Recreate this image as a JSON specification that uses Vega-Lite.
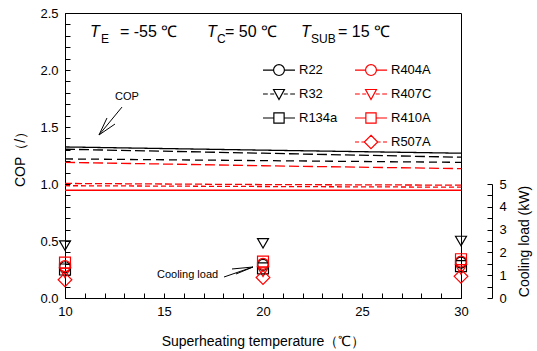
{
  "$schema": "https://vega.github.io/schema/vega-lite/v6.json",
  "width": 396,
  "height": 285,
  "autosize": {"type": "none"},
  "padding": {"left": 65, "top": 13, "right": 76, "bottom": 53},
  "background": "white",
  "datasets": {
    "cop": [
      {"ref": "R22", "sh": 10, "cop": 1.325}, {"ref": "R22", "sh": 20, "cop": 1.297}, {"ref": "R22", "sh": 30, "cop": 1.27},
      {"ref": "R32", "sh": 10, "cop": 1.305}, {"ref": "R32", "sh": 20, "cop": 1.27}, {"ref": "R32", "sh": 30, "cop": 1.235},
      {"ref": "R134a", "sh": 10, "cop": 1.22}, {"ref": "R134a", "sh": 20, "cop": 1.205}, {"ref": "R134a", "sh": 30, "cop": 1.19},
      {"ref": "R404A", "sh": 10, "cop": 0.945}, {"ref": "R404A", "sh": 20, "cop": 0.945}, {"ref": "R404A", "sh": 30, "cop": 0.945},
      {"ref": "R407C", "sh": 10, "cop": 1.19}, {"ref": "R407C", "sh": 20, "cop": 1.16}, {"ref": "R407C", "sh": 30, "cop": 1.135},
      {"ref": "R410A", "sh": 10, "cop": 1.005}, {"ref": "R410A", "sh": 20, "cop": 0.995}, {"ref": "R410A", "sh": 30, "cop": 0.99},
      {"ref": "R507A", "sh": 10, "cop": 0.985}, {"ref": "R507A", "sh": 20, "cop": 0.978}, {"ref": "R507A", "sh": 30, "cop": 0.972}
    ],
    "load": [
      {"ref": "R22", "sh": 10, "kw": 1.35}, {"ref": "R22", "sh": 20, "kw": 1.45}, {"ref": "R22", "sh": 30, "kw": 1.55},
      {"ref": "R32", "sh": 10, "kw": 2.3}, {"ref": "R32", "sh": 20, "kw": 2.4}, {"ref": "R32", "sh": 30, "kw": 2.5},
      {"ref": "R134a", "sh": 10, "kw": 1.25}, {"ref": "R134a", "sh": 20, "kw": 1.3}, {"ref": "R134a", "sh": 30, "kw": 1.4},
      {"ref": "R404A", "sh": 10, "kw": 1.4}, {"ref": "R404A", "sh": 20, "kw": 1.5}, {"ref": "R404A", "sh": 30, "kw": 1.6},
      {"ref": "R407C", "sh": 10, "kw": 1.1}, {"ref": "R407C", "sh": 20, "kw": 1.15}, {"ref": "R407C", "sh": 30, "kw": 1.25},
      {"ref": "R410A", "sh": 10, "kw": 1.55}, {"ref": "R410A", "sh": 20, "kw": 1.6}, {"ref": "R410A", "sh": 30, "kw": 1.7},
      {"ref": "R507A", "sh": 10, "kw": 0.8}, {"ref": "R507A", "sh": 20, "kw": 0.9}, {"ref": "R507A", "sh": 30, "kw": 0.95}
    ]
  },
  "layer": [
    {
      "data": {"values": [{}]},
      "layer": [
        {
          "data": {"name": "cop"},
          "mark": {"type": "line", "strokeWidth": 1.3},
          "encoding": {
            "x": {"field": "sh", "type": "quantitative",
              "scale": {"domain": [10, 30], "nice": false, "zero": false},
              "axis": {"title": "Superheating temperature（℃）", "values": [10,11,12,13,14,15,16,17,18,19,20,21,22,23,24,25,26,27,28,29,30],
                "labelExpr": "datum.value % 5 === 0 ? datum.label : ''", "labelOverlap": false, "labelPadding": 12, "titlePadding": 16}},
            "y": {"field": "cop", "type": "quantitative",
              "scale": {"domain": [0, 2.5], "nice": false, "zero": false},
              "axis": {"title": "COP（/）", "values": [0,0.1,0.2,0.3,0.4,0.5,0.6,0.7,0.8,0.9,1.0,1.1,1.2,1.3,1.4,1.5,1.6,1.7,1.8,1.9,2.0,2.1,2.2,2.3,2.4,2.5],
                "labelExpr": "abs(datum.value*2 - round(datum.value*2)) < 0.001 ? format(datum.value, '.1f') : ''", "labelOverlap": false, "labelPadding": 12, "titlePadding": 12}},
            "stroke": {"field": "ref", "type": "nominal",
              "scale": {"domain": ["R22","R32","R134a","R404A","R407C","R410A","R507A"], "range": ["#000000","#000000","#000000","#ff0000","#ff0000","#ff0000","#ff0000"]},
              "legend": null},
            "strokeDash": {"field": "ref", "type": "nominal",
              "scale": {"domain": ["R22","R32","R134a","R404A","R407C","R410A","R507A"], "range": [[1,0],[10,4],[8,5],[1,0],[10,4],[7,3],[5,3]]},
              "legend": null}
          }
        },
        {
          "data": {"name": "cop"},
          "mark": {"type": "point", "filled": false, "opacity": 0},
          "encoding": {
            "x": {"field": "sh", "type": "quantitative", "axis": null},
            "y": {"field": "cop", "type": "quantitative", "axis": null},
            "color": {"field": "ref", "type": "nominal",
              "scale": {"domain": ["R22","R32","R134a"," ","R404A","R407C","R410A","R507A"], "range": ["#000000","#000000","#000000","#ffffff","#ff0000","#ff0000","#ff0000","#ff0000"]},
              "legend": {"title": null, "orient": "none", "legendX": 201, "legendY": 44, "columns": 2, "columnPadding": 14, "rowPadding": 3,
                "symbolSize": 576, "symbolStrokeWidth": 1.2, "symbolOpacity": 1, "symbolFillColor": "transparent", "labelOffset": 7,
                "labelFontSize": 13, "labelFont": "Liberation Sans", "labelColor": "black", "labelLimit": 100}},
            "shape": {"field": "ref", "type": "nominal",
              "scale": {"domain": ["R22","R32","R134a"," ","R404A","R407C","R410A","R507A"],
                "range": [
                  "M-1.333,0H-0.453M0.453,0H1.333M0.453,0A0.453,0.453,0,1,1,-0.453,0A0.453,0.453,0,1,1,0.453,0",
                  "M-1.333,0H-0.933M-0.733,0H-0.4M0.4,0H0.733M0.933,0H1.333M-0.453,-0.373H0.453L0,0.453Z",
                  "M-1.333,0H-0.427M0.427,0H1.333M-0.427,-0.427H0.427V0.427H-0.427Z",
                  "M0,0",
                  "M-1.333,0H-0.453M0.453,0H1.333M0.453,0A0.453,0.453,0,1,1,-0.453,0A0.453,0.453,0,1,1,0.453,0",
                  "M-1.333,0H-0.933M-0.733,0H-0.4M0.4,0H0.733M0.933,0H1.333M-0.453,-0.373H0.453L0,0.453Z",
                  "M-1.333,0H-0.427M0.427,0H1.333M-0.427,-0.427H0.427V0.427H-0.427Z",
                  "M-1.333,0H-1M-0.8,0H-0.56M0.56,0H0.8M1,0H1.333M0,-0.56L0.56,0L0,0.56L-0.56,0Z"
                ]},
              "legend": {"title": null, "orient": "none", "legendX": 201, "legendY": 44, "columns": 2, "columnPadding": 14, "rowPadding": 3,
                "symbolSize": 576, "symbolStrokeWidth": 1.2, "symbolOpacity": 1, "symbolFillColor": "transparent", "labelOffset": 7,
                "labelFontSize": 13, "labelFont": "Liberation Sans", "labelColor": "black", "labelLimit": 100}}
          }
        },
        {"mark": {"type": "text", "text": "T", "fontSize": 16, "fontStyle": "italic", "align": "left", "baseline": "alphabetic", "color": "black"},
         "encoding": {"x": {"datum": 11.263, "axis": null}, "y": {"datum": 2.2895, "axis": null}}},
        {"mark": {"type": "text", "text": "E", "fontSize": 12, "align": "left", "baseline": "alphabetic", "color": "black"},
         "encoding": {"x": {"datum": 11.818, "axis": null}, "y": {"datum": 2.237, "axis": null}}},
        {"mark": {"type": "text", "text": "=  -55 ℃", "fontSize": 16, "align": "left", "baseline": "alphabetic", "color": "black"},
         "encoding": {"x": {"datum": 12.778, "axis": null}, "y": {"datum": 2.2895, "axis": null}}},
        {"mark": {"type": "text", "text": "T", "fontSize": 16, "fontStyle": "italic", "align": "left", "baseline": "alphabetic", "color": "black"},
         "encoding": {"x": {"datum": 17.172, "axis": null}, "y": {"datum": 2.2895, "axis": null}}},
        {"mark": {"type": "text", "text": "C", "fontSize": 12, "align": "left", "baseline": "alphabetic", "color": "black"},
         "encoding": {"x": {"datum": 17.677, "axis": null}, "y": {"datum": 2.237, "axis": null}}},
        {"mark": {"type": "text", "text": "= 50 ℃", "fontSize": 16, "align": "left", "baseline": "alphabetic", "color": "black"},
         "encoding": {"x": {"datum": 18.081, "axis": null}, "y": {"datum": 2.2895, "axis": null}}},
        {"mark": {"type": "text", "text": "T", "fontSize": 16, "fontStyle": "italic", "align": "left", "baseline": "alphabetic", "color": "black"},
         "encoding": {"x": {"datum": 21.919, "axis": null}, "y": {"datum": 2.2895, "axis": null}}},
        {"mark": {"type": "text", "text": "SUB", "fontSize": 12, "align": "left", "baseline": "alphabetic", "color": "black"},
         "encoding": {"x": {"datum": 22.424, "axis": null}, "y": {"datum": 2.237, "axis": null}}},
        {"mark": {"type": "text", "text": "= 15 ℃", "fontSize": 16, "align": "left", "baseline": "alphabetic", "color": "black"},
         "encoding": {"x": {"datum": 23.788, "axis": null}, "y": {"datum": 2.2895, "axis": null}}},
        {"mark": {"type": "text", "text": "COP", "fontSize": 11, "align": "center", "baseline": "middle", "color": "black"},
         "encoding": {"x": {"datum": 13.131, "axis": null}, "y": {"datum": 1.763, "axis": null}}},
        {"mark": {"type": "rule", "color": "black", "strokeWidth": 1},
         "encoding": {"x": {"datum": 12.879, "axis": null}, "y": {"datum": 1.675, "axis": null}, "x2": {"datum": 11.717}, "y2": {"datum": 1.43}}},
        {"mark": {"type": "rule", "color": "black", "strokeWidth": 1},
         "encoding": {"x": {"datum": 11.717, "axis": null}, "y": {"datum": 1.43, "axis": null}, "x2": {"datum": 12.121}, "y2": {"datum": 1.579}}},
        {"mark": {"type": "rule", "color": "black", "strokeWidth": 1},
         "encoding": {"x": {"datum": 11.717, "axis": null}, "y": {"datum": 1.43, "axis": null}, "x2": {"datum": 12.525}, "y2": {"datum": 1.526}}},
        {"mark": {"type": "text", "text": "Cooling load", "fontSize": 11, "align": "left", "baseline": "middle", "color": "black"},
         "encoding": {"x": {"datum": 14.646, "axis": null}, "y": {"datum": 0.2018, "axis": null}}},
        {"mark": {"type": "rule", "color": "black", "strokeWidth": 1},
         "encoding": {"x": {"datum": 18.03, "axis": null}, "y": {"datum": 0.1842, "axis": null}, "x2": {"datum": 19.495}, "y2": {"datum": 0.2719}}},
        {"mark": {"type": "rule", "color": "black", "strokeWidth": 1},
         "encoding": {"x": {"datum": 19.495, "axis": null}, "y": {"datum": 0.2719, "axis": null}, "x2": {"datum": 18.434}, "y2": {"datum": 0.2544}}},
        {"mark": {"type": "rule", "color": "black", "strokeWidth": 1},
         "encoding": {"x": {"datum": 19.495, "axis": null}, "y": {"datum": 0.2719, "axis": null}, "x2": {"datum": 18.636}, "y2": {"datum": 0.2105}}}
      ],
      "resolve": {"axis": {"x": "independent", "y": "independent"}}
    },
    {
      "data": {"name": "load"},
      "layer": [
        {
          "transform": [{"filter": {"field": "ref", "oneOf": ["R22", "R404A"]}}],
          "mark": {"type": "point", "shape": "circle", "filled": false, "size": 120, "strokeWidth": 1.2, "opacity": 1},
          "encoding": {
            "x": {"field": "sh", "type": "quantitative", "axis": null},
            "y": {"field": "kw", "type": "quantitative",
              "scale": {"domain": [0, 12.5], "nice": false, "zero": false},
              "axis": {"orient": "right", "offset": 31, "title": "Cooling load  (kW)", "values": [0,0.5,1,1.5,2,2.5,3,3.5,4,4.5,5],
                "labelExpr": "datum.value % 1 === 0 ? datum.label : ''", "labelOverlap": false, "domainDash": [114, 1000], "labelPadding": 12,
                "titleAngle": 270, "titleY": 228, "titlePadding": 25}},
            "stroke": {"field": "ref", "type": "nominal",
              "scale": {"domain": ["R22","R32","R134a","R404A","R407C","R410A","R507A"], "range": ["#000000","#000000","#000000","#ff0000","#ff0000","#ff0000","#ff0000"]},
              "legend": null}
          }
        },
        {
          "transform": [{"filter": {"field": "ref", "oneOf": ["R32", "R407C"]}}],
          "mark": {"type": "point", "shape": "triangle-down", "filled": false, "size": 120, "strokeWidth": 1.2, "opacity": 1},
          "encoding": {
            "x": {"field": "sh", "type": "quantitative", "axis": null},
            "y": {"field": "kw", "type": "quantitative", "axis": null},
            "stroke": {"field": "ref", "type": "nominal",
              "scale": {"domain": ["R22","R32","R134a","R404A","R407C","R410A","R507A"], "range": ["#000000","#000000","#000000","#ff0000","#ff0000","#ff0000","#ff0000"]},
              "legend": null}
          }
        },
        {
          "transform": [{"filter": {"field": "ref", "oneOf": ["R134a", "R410A"]}}],
          "mark": {"type": "point", "shape": "square", "filled": false, "size": 120, "strokeWidth": 1.2, "opacity": 1},
          "encoding": {
            "x": {"field": "sh", "type": "quantitative", "axis": null},
            "y": {"field": "kw", "type": "quantitative", "axis": null},
            "stroke": {"field": "ref", "type": "nominal",
              "scale": {"domain": ["R22","R32","R134a","R404A","R407C","R410A","R507A"], "range": ["#000000","#000000","#000000","#ff0000","#ff0000","#ff0000","#ff0000"]},
              "legend": null}
          }
        },
        {
          "transform": [{"filter": {"field": "ref", "oneOf": ["R507A"]}}],
          "mark": {"type": "point", "shape": "M0,-1.25L1.25,0L0,1.25L-1.25,0Z", "filled": false, "size": 120, "strokeWidth": 1.2, "opacity": 1},
          "encoding": {
            "x": {"field": "sh", "type": "quantitative", "axis": null},
            "y": {"field": "kw", "type": "quantitative", "axis": null},
            "stroke": {"field": "ref", "type": "nominal",
              "scale": {"domain": ["R22","R32","R134a","R404A","R407C","R410A","R507A"], "range": ["#000000","#000000","#000000","#ff0000","#ff0000","#ff0000","#ff0000"]},
              "legend": null}
          }
        }
      ],
      "resolve": {"axis": {"x": "independent", "y": "independent"}}
    }
  ],
  "resolve": {"scale": {"y": "independent"}, "axis": {"x": "independent", "y": "independent"}},
  "config": {
    "font": "Liberation Sans",
    "view": {"stroke": "black", "strokeWidth": 1},
    "text": {"font": "Liberation Sans"},
    "axis": {"domainColor": "black", "tickColor": "black", "labelColor": "black", "titleColor": "black",
      "labelFont": "Liberation Sans", "titleFont": "Liberation Sans", "labelFontSize": 13, "titleFontSize": 14,
      "titleFontWeight": "normal", "tickSize": -5, "grid": false, "labelOverlap": false, "labelFlush": false, "domainWidth": 1, "tickWidth": 1}
  }
}
